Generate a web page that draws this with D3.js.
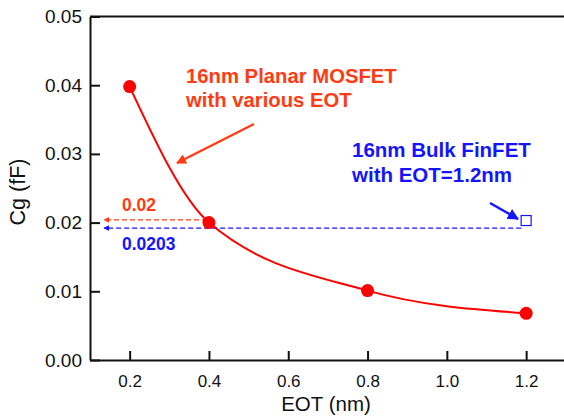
<!DOCTYPE html>
<html><head><meta charset="utf-8">
<script src="https://cdn.jsdelivr.net/npm/d3@7"></script>
<style>body{margin:0;background:#fff}svg{display:block}text{font-family:"Liberation Sans",Arial,Helvetica,sans-serif}</style>
</head><body><svg id="c" width="564" height="418"></svg>
<script>
const eot = [0.2, 0.4, 0.8, 1.2];
const cg = [0.0398, 0.0200, 0.0101, 0.0068];
const finfetEot = [1.2];
const finfetCg = [0.0203];
const xTicks = [0.2, 0.4, 0.6, 0.8, 1.0, 1.2];
const yTicks = [0.00, 0.01, 0.02, 0.03, 0.04, 0.05];
const refLineRed = 0.0204;   // drawn position of "0.02" guide
const refLineBlue = 0.0192;  // drawn position of "0.0203" guide
const planarLabel = ["16nm Planar MOSFET", "with various EOT"];
const finLabel = ["16nm Bulk FinFET", "with EOT=1.2nm"];

const svg = d3.select("#c");
const L = 90, T = 16.5, B = 360;
const x = d3.scaleLinear().domain([0.1, 1.3]).range([L, L + 1.2 * 396.5]);
const y = d3.scaleLinear().domain([0, 0.05]).range([B, T]);
const RED = "#ff0000", ORANGE = "#ff3b14", BLUE = "#1414ff";

const defs = svg.append("defs");
function marker(id, col){
  defs.append("marker").attr("id", id).attr("viewBox","0 0 10 10").attr("refX",9).attr("refY",5)
    .attr("markerWidth",4.5).attr("markerHeight",4.5).attr("orient","auto-start-reverse")
    .append("path").attr("d","M0,0L10,5L0,10z").attr("fill",col);
}
marker("ar", ORANGE); marker("ab", BLUE);

// axes
const xAxis = d3.axisBottom(x).tickValues(xTicks).tickFormat(d3.format(".1f")).tickSizeInner(-9).tickSizeOuter(0).tickPadding(15);
const gx = svg.append("g").attr("transform", `translate(0,${B})`).call(xAxis);
const yAxis = d3.axisLeft(y).tickValues(yTicks).tickFormat(d3.format(".2f")).tickSizeInner(-10).tickSizeOuter(0).tickPadding(18);
const gy = svg.append("g").attr("transform", `translate(${L},0)`).call(yAxis);
[gx, gy].forEach(g => {
  g.select(".domain").attr("stroke", "#111").attr("stroke-width", 2);
  g.selectAll(".tick line").attr("stroke", "#111").attr("stroke-width", 2);
  g.selectAll(".tick text").attr("fill", "#111");
});
gx.selectAll(".tick text").style("font-size", "17px");
gy.selectAll(".tick text").style("font-size", "19px").attr("dx", "10");
// top frame line
svg.append("line").attr("x1", L).attr("x2", 564).attr("y1", T).attr("y2", T).attr("stroke", "#111").attr("stroke-width", 2);

svg.append("text").attr("x", 326).attr("y", 411).attr("text-anchor", "middle").style("font-size", "20.5px").attr("fill", "#111").text("EOT (nm)");
svg.append("text").attr("transform", "translate(25,192) rotate(-90)").attr("text-anchor", "middle").style("font-size", "21.5px").attr("fill", "#111").text("Cg (fF)");

// guide lines
svg.append("line").attr("x1", x(eot[1]) - 2).attr("x2", 104).attr("y1", y(refLineRed)).attr("y2", y(refLineRed))
  .attr("stroke", ORANGE).attr("stroke-width", 1.3).attr("stroke-dasharray", "5,3").attr("marker-end", "url(#ar)");
svg.append("line").attr("x1", x(finfetEot[0]) - 5).attr("x2", 104).attr("y1", y(refLineBlue)).attr("y2", y(refLineBlue))
  .attr("stroke", BLUE).attr("stroke-width", 1.3).attr("stroke-dasharray", "5,3").attr("marker-end", "url(#ab)");

// curve
const pts = eot.map((e, i) => [e, cg[i]]);
svg.append("path").datum(pts).attr("fill", "none").attr("stroke", RED).attr("stroke-width", 2)
  .attr("d", d3.line().x(d => x(d[0])).y(d => y(d[1])).curve(d3.curveMonotoneX));
svg.selectAll("circle.p").data(pts).join("circle").attr("class", "p")
  .attr("cx", d => x(d[0])).attr("cy", d => y(d[1])).attr("r", 6.5).attr("fill", RED);

// finfet square
svg.selectAll("rect.f").data(finfetEot.map((e, i) => [e, finfetCg[i]])).join("rect").attr("class", "f")
  .attr("x", d => x(d[0]) - 5).attr("y", d => y(d[1]) - 5).attr("width", 10).attr("height", 10)
  .attr("fill", "#fff").attr("stroke", BLUE).attr("stroke-width", 1.2);

// annotation arrows
svg.append("line").attr("x1", 254).attr("y1", 124).attr("x2", 177).attr("y2", 163)
  .attr("stroke", ORANGE).attr("stroke-width", 2.2).attr("marker-end", "url(#ar)");
svg.append("line").attr("x1", 490).attr("y1", 203).attr("x2", 518).attr("y2", 219)
  .attr("stroke", BLUE).attr("stroke-width", 2.5).attr("marker-end", "url(#ab)");

// labels
const tp = svg.append("text").attr("fill", ORANGE).style("font-size", "20.3px").style("font-weight", "bold");
tp.append("tspan").attr("x", 186).attr("y", 83).text(planarLabel[0]);
tp.append("tspan").attr("x", 186).attr("y", 107).text(planarLabel[1]);
const tb = svg.append("text").attr("fill", BLUE).style("font-size", "20.5px").style("font-weight", "bold");
tb.append("tspan").attr("x", 352).attr("y", 157).text(finLabel[0]);
tb.append("tspan").attr("x", 352).attr("y", 182).text(finLabel[1]);
svg.append("text").attr("x", 122).attr("y", 211).attr("fill", ORANGE).style("font-size", "17.5px").style("font-weight", "bold").text("0.02");
svg.append("text").attr("x", 122).attr("y", 250).attr("fill", BLUE).style("font-size", "17.5px").style("font-weight", "bold").text("0.0203");
</script></body></html>
